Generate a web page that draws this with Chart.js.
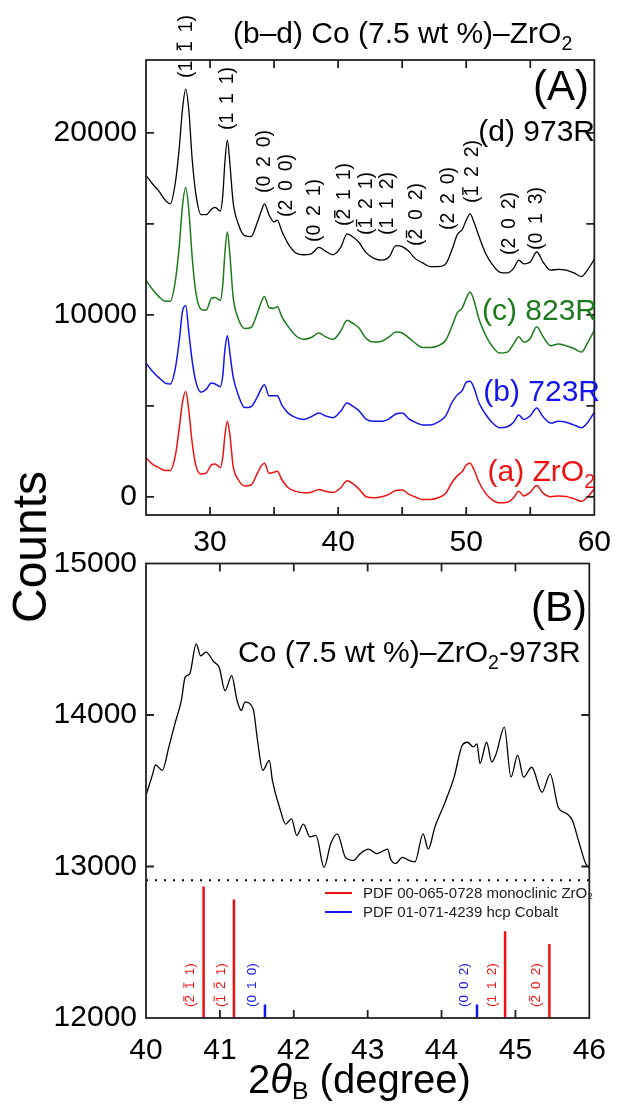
<!DOCTYPE html>
<html>
<head>
<meta charset="utf-8">
<script src="https://cdn.jsdelivr.net/npm/chart.js@4.4.1/dist/chart.umd.min.js"></script>
<style>
  body { margin: 0; background: #fff; }
  #wrap { position: relative; width: 621px; height: 1108px; overflow: hidden; font-family: "Liberation Sans", Arial, Helvetica, sans-serif; }
  #wrap canvas { position: absolute; left: 0; top: 0; }
  #countsLabel { position: absolute; left: 30px; top: 547px; font-size: 48px; line-height: 1; white-space: nowrap;
                 transform: translate(-50%, -50%) rotate(-90deg); }
  #xTitle { position: absolute; left: 248px; top: 1059px; font-size: 40px; line-height: 1; white-space: nowrap; }
  #xTitle sub { font-size: 0.62em; vertical-align: -0.25em; line-height: 0; }
</style>
</head>
<body>
<div id="wrap">
  <canvas id="chartA" width="621" height="1108"></canvas>
  <canvas id="chartB" width="621" height="1108"></canvas>
  <div id="countsLabel">Counts</div>
  <div id="xTitle">2<i>θ</i><sub>B</sub> (degree)</div>
</div>
<script>
const FONT = '"Liberation Sans", Arial, Helvetica, sans-serif';

// ---------- panel (A): 2θ 25–60, stacked patterns ----------
const twoThetaA = [25, 25.5, 26, 26.5, 26.9, 27.3, 27.6, 27.85, 28.1, 28.35, 28.6, 28.9, 29.3, 29.7, 30.1, 30.4, 30.8, 31.0, 31.15, 31.35,
  31.55, 31.8, 32.2, 32.7, 33.2, 33.7, 34.0, 34.25, 34.6, 35.0, 35.25, 35.6, 36.1, 36.7, 37.3, 37.9, 38.5, 39.0, 39.6, 40.2,
  40.7, 41.1, 41.6, 42.2, 42.8, 43.4, 44.0, 44.5, 45.0, 45.5, 46.0, 46.6, 47.2, 47.8, 48.4, 48.9, 49.3, 49.7, 50.0, 50.3,
  50.6, 51.0, 51.5, 52.0, 52.6, 53.2, 53.7, 54.1, 54.5, 55.0, 55.5, 56.0, 56.6, 57.2, 57.8, 58.4, 59.0, 59.5, 60.0];

const countsZrO2 = [2150, 1800, 1600, 1450, 1450, 2300, 3800, 5200, 5780, 4700, 3000, 1700, 1250, 1300, 1750, 1800, 1600, 2200, 3300, 4150,
  3400, 1700, 950, 600, 650, 1300, 1700, 1850, 1300, 1350, 1400, 950, 500, 300, 220, 250, 400, 300, 230, 500,
  880, 750, 450, 0, -50, 0, 150, 350, 380, 150, 0, -150, -150, -50, 200, 800, 1150, 1400, 1750, 1850,
  1500, 800, 200, -150, -330, -300, -50, 300, 50, 250, 620, 200, 0, 50, 20, -100, -250, 0, 450];

const counts723R = [7350, 6900, 6550, 6250, 6200, 7100, 8600, 10200, 10500, 9000, 7500, 6300, 5750, 5900, 6250, 6200, 6050, 6700, 8000, 8850,
  7900, 6600, 5600, 4900, 4950, 5500, 5950, 6150, 5550, 5550, 5550, 5050, 4600, 4350, 4250, 4400, 4600, 4450, 4350, 4700,
  5150, 5000, 4750, 4250, 4150, 4150, 4300, 4550, 4600, 4300, 4100, 3950, 3950, 4100, 4450, 5200, 5600, 5850, 6300, 6350,
  6000, 5150, 4550, 4100, 3800, 3850, 4100, 4500, 4250, 4450, 4880, 4400, 4050, 4150, 4100, 3950, 3800, 4100, 4650];

const counts823R = [11900, 11400, 11000, 10750, 10750, 11900, 13800, 16000, 17000, 15700, 13200, 11200, 10300, 10250, 10900, 10950, 10800, 11700, 13300, 14550,
  13300, 11000, 9800, 9250, 9300, 10100, 10700, 11000, 10400, 10350, 10450, 9900, 9350, 8850, 8650, 8750, 9000, 8800, 8650, 9100,
  9700, 9550, 9300, 8700, 8500, 8550, 8800, 9050, 9000, 8750, 8450, 8200, 8200, 8300, 8600, 9400, 10100, 10400, 10900, 11250,
  10800, 9750, 8900, 8300, 7900, 7950, 8400, 8800, 8500, 8700, 9350, 8800, 8300, 8400, 8300, 8150, 7950, 8500, 9150];

const counts973R = [17660, 17200, 16800, 16300, 16100, 17300, 19200, 21300, 22400, 21200, 18600, 16600, 15500, 15500, 15800, 15900, 15700, 16600, 18300, 19600,
  18300, 16200, 15000, 14350, 14300, 15100, 15700, 16100, 15500, 15100, 15200, 14600, 13900, 13400, 13300, 13350, 13700, 13500, 13300, 13700,
  14450, 14300, 14000, 13400, 13100, 13000, 13200, 13800, 13750, 13500, 13100, 12850, 12650, 12650, 12800, 13600, 14400, 14700, 15200, 15550,
  15100, 14300, 13400, 12800, 12350, 12300, 12550, 13000, 12800, 12900, 13450, 12900, 12450, 12500, 12450, 12300, 12100, 12500, 13050];

const xLabelsA = [30, 40, 50, 60];
const xMinorA = [30, 35, 40, 45, 50, 55];
const yLabelsA = [0, 10000, 20000];
const yMinorA = [0, 5000, 10000, 15000, 20000];

// Miller indices of the monoclinic ZrO2 reflections ("-" = overbar)
const peakHklA = ['1 -1 1', '1 1 1', '0 2 0', '2 0 0', '0 2 1', '-2 1 1', '-1 2 1', '1 1 2', '-2 0 2', '2 2 0', '-1 2 2', '2 0 2', '0 1 3'];
const peakPosA = [28.2, 31.4, 34.3, 36.0, 38.2, 40.5, 42.2, 43.9, 46.1, 48.6, 50.5, 53.4, 55.5];

// ---------- panel (B): 2θ 40–46, sample 973R ----------
const twoThetaB = [40.00, 40.09, 40.13, 40.22, 40.31, 40.39, 40.48, 40.53, 40.59, 40.68, 40.74, 40.81, 40.92, 40.99, 41.07, 41.16, 41.23, 41.29,
  41.34, 41.45, 41.51, 41.58, 41.67, 41.71, 41.82, 41.89, 41.97, 42.04, 42.13, 42.22, 42.30, 42.41, 42.50, 42.59, 42.70, 42.81,
  42.90, 43.01, 43.12, 43.18, 43.27, 43.31, 43.38, 43.47, 43.56, 43.64, 43.75, 43.82, 43.91, 44.04, 44.17, 44.28, 44.35, 44.43,
  44.48, 44.52, 44.61, 44.68, 44.74, 44.85, 44.94, 45.03, 45.11, 45.22, 45.36, 45.47, 45.58, 45.69, 45.77, 45.86, 45.95, 46.00];
const counts973RB = [13470, 13610, 13670, 13635, 13790, 13940, 14100, 14250, 14270, 14470, 14390, 14415, 14350, 14315, 14160, 14260, 14100, 14030,
  14085, 14040, 13830, 13635, 13700, 13570, 13370, 13280, 13315, 13205, 13280, 13195, 13205, 12995, 13150, 13215, 13060, 13040,
  13085, 13115, 13085, 13095, 13115, 13050, 13020, 13060, 13040, 13030, 13215, 13115, 13260, 13415, 13590, 13800, 13820, 13790,
  13810, 13680, 13820, 13690, 13745, 13920, 13590, 13735, 13590, 13655, 13490, 13610, 13390, 13350, 13305, 13160, 13020, 12990];

const baselineB = 12910;

// reference patterns (stick positions and heights on the counts axis)
const zrO2RefPos = [40.78, 41.19, 44.86, 45.46];
const zrO2RefInt = [12868, 12783, 12572, 12488];
const zrO2RefHkl = ['-2 -1 1', '-1 -2 1', '1 1 2', '-2 0 2'];
const coRefPos = [41.61, 44.48];
const coRefInt = [12089, 12089];
const coRefHkl = ['0 1 0', '0 0 2'];

const xLabelsB = [40, 41, 42, 43, 44, 45, 46];
const xMinorB = [41, 42, 43, 44, 45];
const yLabelsB = [12000, 13000, 14000, 15000];
const yMinorB = [13000, 14000];

const RED = '#ee1111', BLUE = '#1414ee', GREEN = '#1d7a1d', BLACK = '#000';

// ---------- drawing helpers ----------
function drawRich(ctx, parts, x, y, size, align, color)
{
    let w = 0;
    parts.forEach(p => {
        ctx.font = (p[1] ? size * 0.65 : size) + 'px ' + FONT;
        w += ctx.measureText(p[0]).width;
    });
    let cx = align === 'right' ? x - w : (align === 'center' ? x - w / 2 : x);
    ctx.fillStyle = color;
    ctx.textBaseline = 'alphabetic';
    ctx.textAlign = 'left';
    parts.forEach(p => {
        ctx.font = (p[1] ? size * 0.65 : size) + 'px ' + FONT;
        ctx.fillText(p[0], cx, p[1] ? y + size * 0.24 : y);
        cx += ctx.measureText(p[0]).width;
    });
}

// rotated Miller index label, reading bottom to top, "-" becomes an overbar
function drawHkl(ctx, hkl, x, yBottom, size, color)
{
    ctx.save();
    ctx.translate(x, yBottom);
    ctx.rotate(-Math.PI / 2);
    ctx.font = size + 'px ' + FONT;
    ctx.fillStyle = color;
    ctx.strokeStyle = color;
    ctx.lineWidth = Math.max(1, size * 0.07);
    ctx.textBaseline = 'middle';
    ctx.textAlign = 'left';
    let cx = 0;
    ctx.fillText('(', cx, 0);
    cx += ctx.measureText('(').width;
    const toks = hkl.split(' ');
    toks.forEach((t, i) => {
        const neg = t[0] === '-';
        const d = neg ? t.slice(1) : t;
        const w = ctx.measureText(d).width;
        ctx.fillText(d, cx, 0);
        if (neg)
        {
            ctx.beginPath();
            ctx.moveTo(cx + w * 0.15, -size * 0.5);
            ctx.lineTo(cx + w * 0.85, -size * 0.5);
            ctx.stroke();
        }
        cx += w;
        if (i < toks.length - 1)
            cx += size * 0.45;
    });
    ctx.fillText(')', cx, 0);
    ctx.restore();
}

// box round the plot and inward ticks on all four sides
const frameTicks = {
    id: 'frameTicks',
    afterDraw(chart, args, opts)
    {
        const { ctx, chartArea: a } = chart;
        const sx = chart.scales.x, sy = chart.scales.y;
        const len = 8;
        ctx.save();
        ctx.strokeStyle = '#222';
        ctx.lineWidth = 1.8;
        ctx.strokeRect(a.left, a.top, a.right - a.left, a.bottom - a.top);
        ctx.beginPath();
        opts.xTicks.forEach(v => {
            const px = sx.getPixelForValue(v);
            ctx.moveTo(px, a.bottom); ctx.lineTo(px, a.bottom - len);
            ctx.moveTo(px, a.top); ctx.lineTo(px, a.top + len);
        });
        opts.yTicks.forEach(v => {
            const py = sy.getPixelForValue(v);
            ctx.moveTo(a.left, py); ctx.lineTo(a.left + len, py);
            ctx.moveTo(a.right, py); ctx.lineTo(a.right - len, py);
        });
        ctx.stroke();
        ctx.restore();
    }
};

function series(xs, ys, color, width)
{
    return {
        data: xs.map((x, i) => ({ x: x, y: ys[i] })),
        borderColor: color,
        borderWidth: width,
        pointRadius: 0,
        cubicInterpolationMode: 'monotone',
        fill: false
    };
}

function axisOptions(min, max, labels, pad, fitSize, isX)
{
    return {
        type: 'linear',
        min: min,
        max: max,
        grid: { display: false, drawTicks: false },
        border: { display: false },
        ticks: {
            color: '#000',
            font: { size: 30, family: FONT },
            padding: pad,
            maxRotation: 0,
            autoSkip: false,
            callback: (v) => String(v)
        },
        afterBuildTicks: (s) => { s.ticks = labels.map(v => ({ value: v })); },
        afterFit: (s) => { if (isX) s.height = fitSize; else s.width = fitSize; }
    };
}

// ---------- chart (A) ----------
const labelsA = {
    id: 'labelsA',
    afterDraw(chart)
    {
        const ctx = chart.ctx;
        const sx = chart.scales.x;
        const hklBottom = [78, 130, 193, 217, 242, 226, 235, 235, 246, 230, 203, 255, 250];
        ctx.save();
        drawRich(ctx, [['(b–d) Co (7.5 wt %)–ZrO'], ['2', true]], 233, 43, 30, 'left', BLACK);
        drawRich(ctx, [['(A)']], 589, 100, 42, 'right', BLACK);
        drawRich(ctx, [['(d) 973R']], 595, 141, 30, 'right', BLACK);
        drawRich(ctx, [['(c) 823R']], 597, 320, 30, 'right', GREEN);
        drawRich(ctx, [['(b) 723R']], 600, 401, 30, 'right', BLUE);
        drawRich(ctx, [['(a) ZrO'], ['2', true]], 595, 481, 30, 'right', RED);
        peakHklA.forEach((h, i) => {
            drawHkl(ctx, h, sx.getPixelForValue(peakPosA[i]), hklBottom[i], 19.5, BLACK);
        });
        ctx.restore();
    }
};

new Chart(document.getElementById('chartA').getContext('2d'),
{
    type: 'line',
    data: {
        datasets: [
            series(twoThetaA, countsZrO2, RED, 1.5),
            series(twoThetaA, counts723R, BLUE, 1.5),
            series(twoThetaA, counts823R, GREEN, 1.5),
            series(twoThetaA, counts973R, BLACK, 1.3)
        ]
    },
    options: {
        responsive: false,
        animation: false,
        devicePixelRatio: 1,
        layout: { padding: { top: 60, right: 19, bottom: 548, left: 0 } },
        plugins: {
            legend: { display: false },
            tooltip: { enabled: false },
            frameTicks: { xTicks: xMinorA, yTicks: yMinorA }
        },
        scales: {
            x: axisOptions(25, 60, xLabelsA, 10, 45, true),
            y: axisOptions(-1000, 24000, yLabelsA, 9, 146, false)
        }
    },
    plugins: [frameTicks, labelsA]
});

// ---------- chart (B) ----------
const labelsB = {
    id: 'labelsB',
    afterDraw(chart)
    {
        const ctx = chart.ctx;
        const sx = chart.scales.x;
        ctx.save();
        drawRich(ctx, [['(B)']], 587, 621, 42, 'right', BLACK);
        drawRich(ctx, [['Co (7.5 wt %)–ZrO'], ['2', true], ['-973R']], 238, 662, 30, 'left', BLACK);

        // legend of the reference patterns
        ctx.lineWidth = 2;
        [[RED, 'PDF 00-065-0728 monoclinic ZrO₂', 893], [BLUE, 'PDF 01-071-4239 hcp Cobalt', 912]].forEach(l => {
            ctx.strokeStyle = l[0];
            ctx.beginPath();
            ctx.moveTo(325, l[2]); ctx.lineTo(352, l[2]);
            ctx.stroke();
            ctx.fillStyle = '#222';
            ctx.font = '15px ' + FONT;
            ctx.textBaseline = 'middle';
            ctx.textAlign = 'left';
            ctx.fillText(l[1], 363, l[2] + 1);
        });

        zrO2RefHkl.forEach((h, i) => drawHkl(ctx, h, sx.getPixelForValue(zrO2RefPos[i]) - 13, 1007, 13.5, RED));
        coRefHkl.forEach((h, i) => drawHkl(ctx, h, sx.getPixelForValue(coRefPos[i]) - 13, 1007, 13.5, BLUE));
        ctx.restore();
    }
};

const sticks = [];
zrO2RefPos.forEach((p, i) => {
    sticks.push({ data: [{ x: p, y: 12000 }, { x: p, y: zrO2RefInt[i] }], borderColor: RED, borderWidth: 2.5, pointRadius: 0 });
});
coRefPos.forEach((p, i) => {
    sticks.push({ data: [{ x: p, y: 12000 }, { x: p, y: coRefInt[i] }], borderColor: BLUE, borderWidth: 2.5, pointRadius: 0 });
});

new Chart(document.getElementById('chartB').getContext('2d'),
{
    type: 'line',
    data: {
        datasets: [
            series(twoThetaB, counts973RB, BLACK, 1.3),
            {
                data: [{ x: 40, y: baselineB }, { x: 46, y: baselineB }],
                borderColor: BLACK,
                borderWidth: 2,
                borderDash: [2, 7],
                pointRadius: 0
            },
            ...sticks
        ]
    },
    options: {
        responsive: false,
        animation: false,
        devicePixelRatio: 1,
        layout: { padding: { top: 563.5, right: 19, bottom: 40, left: 0 } },
        plugins: {
            legend: { display: false },
            tooltip: { enabled: false },
            frameTicks: { xTicks: xMinorB, yTicks: yMinorB }
        },
        scales: {
            x: axisOptions(40, 46, xLabelsB, 15, 50, true),
            y: axisOptions(12000, 15000, yLabelsB, 9, 146, false)
        }
    },
    plugins: [frameTicks, labelsB]
});
</script>
</body>
</html>
